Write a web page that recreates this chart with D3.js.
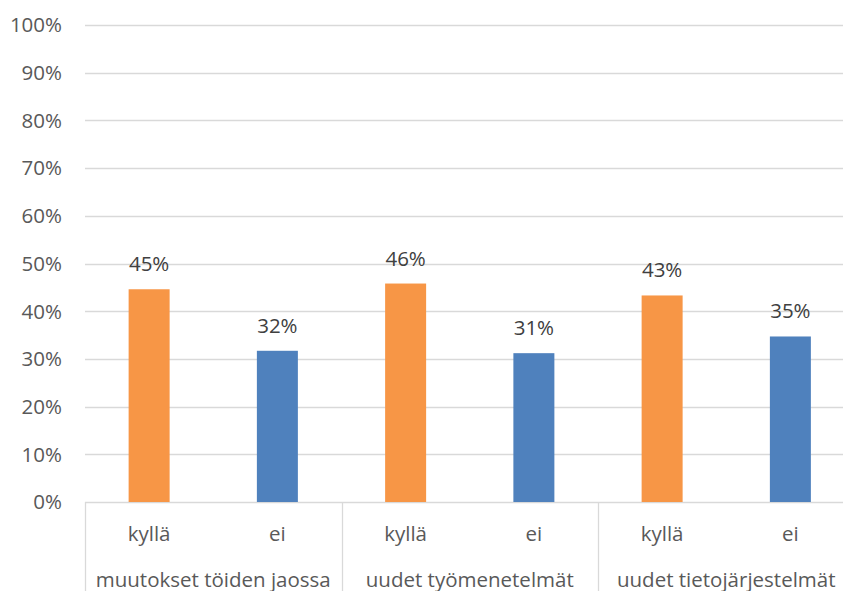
<!DOCTYPE html>
<html>
<head>
<meta charset="utf-8">
<script src="https://d3js.org/d3.v7.min.js"></script>
<style>
  body { margin: 0; background: #fff; overflow: hidden; }
  svg text { font-family: "Open Sans", "Noto Sans", sans-serif; fill: #595959; }
</style>
</head>
<body>
<svg id="chart"></svg>
<script>
// data
var groups = ["muutokset töiden jaossa", "uudet työmenetelmät", "uudet tietojärjestelmät"];
var answers = ["kyllä", "ei"];
var kyllaValues = [44.6, 45.8, 43.3];
var eiValues = [31.7, 31.2, 34.7];
var yTicks = [0, 10, 20, 30, 40, 50, 60, 70, 80, 90, 100];
var colors = ["#F79646", "#4F81BD"];

var W = 843, H = 591;
var plotLeft = 85, plotRight = 854.5, plotTop = 25, plotBottom = 502;
var fs = "20.5px";

var svg = d3.select("#chart").attr("width", W).attr("height", H);

var y = d3.scaleLinear().domain([0, 100]).range([plotBottom, plotTop]);

var x0 = d3.scaleBand().domain(groups).range([plotLeft, plotRight]);
var x1 = d3.scaleBand().domain(answers).range([0, x0.bandwidth()]);

// gridlines
svg.append("g").selectAll("line")
  .data(yTicks)
  .enter().append("line")
  .attr("x1", plotLeft).attr("x2", plotRight)
  .attr("y1", function(d) { return Math.round(y(d)) + 0.5; })
  .attr("y2", function(d) { return Math.round(y(d)) + 0.5; })
  .attr("stroke", "#d9d9d9").attr("stroke-width", 1.3);

// y tick labels
svg.append("g").selectAll("text")
  .data(yTicks)
  .enter().append("text")
  .attr("x", 62)
  .attr("y", function(d) { return y(d); })
  .attr("dy", "0.36em")
  .attr("text-anchor", "end")
  .style("font-size", fs)
  .text(function(d) { return d + "%"; });

// build rows
var rows = [];
groups.forEach(function(g, i) {
  rows.push({ group: g, answer: "kyllä", value: kyllaValues[i], c: 0 });
  rows.push({ group: g, answer: "ei", value: eiValues[i], c: 1 });
});

var barW = 41;
function cx(d) { return x0(d.group) + x1(d.answer) + x1.bandwidth() / 2; }

svg.append("g").selectAll("rect")
  .data(rows)
  .enter().append("rect")
  .attr("x", function(d) { return cx(d) - barW / 2; })
  .attr("width", barW)
  .attr("y", function(d) { return y(d.value); })
  .attr("height", function(d) { return y(0) - y(d.value); })
  .attr("fill", function(d) { return colors[d.c]; });

// value labels
svg.append("g").selectAll("text")
  .data(rows)
  .enter().append("text")
  .attr("x", function(d) { return cx(d); })
  .attr("y", function(d) { return y(d.value) - 18; })
  .attr("text-anchor", "middle")
  .style("font-size", fs)
  .style("fill", "#404040")
  .text(function(d) { return Math.round(d.value) + "%"; });

// category axis: separators
svg.append("g").selectAll("line")
  .data(groups)
  .enter().append("line")
  .attr("x1", function(d) { return Math.round(x0(d)) + 0.5; })
  .attr("x2", function(d) { return Math.round(x0(d)) + 0.5; })
  .attr("y1", plotBottom).attr("y2", H)
  .attr("stroke", "#d9d9d9").attr("stroke-width", 1.3);

// inner labels
svg.append("g").selectAll("text")
  .data(rows)
  .enter().append("text")
  .attr("x", function(d) { return cx(d); })
  .attr("y", 541)
  .attr("text-anchor", "middle")
  .style("font-size", fs)
  .text(function(d) { return d.answer; });

// outer labels
svg.append("g").selectAll("text")
  .data(groups)
  .enter().append("text")
  .attr("x", function(d) { return x0(d) + x0.bandwidth() / 2; })
  .attr("y", 587)
  .attr("text-anchor", "middle")
  .style("font-size", fs)
  .text(function(d) { return d; });
</script>
</body>
</html>
